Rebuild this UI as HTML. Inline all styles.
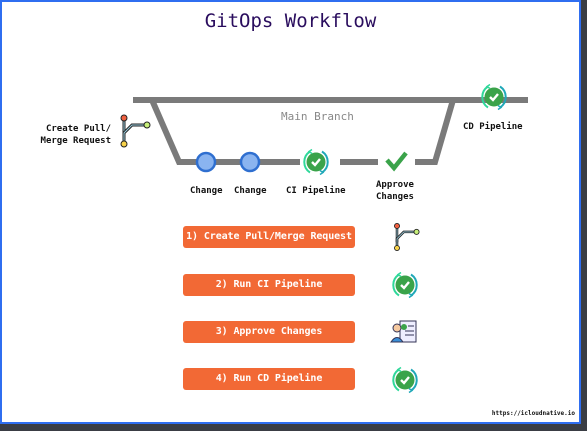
<!DOCTYPE html>
<html><head><style>
body{margin:0;width:587px;height:431px;background:#3a3d44;position:relative;overflow:hidden;font-family:"DejaVu Sans Mono","Liberation Mono",monospace}
#w{position:absolute;left:0;top:0;width:577px;height:420px;background:#fff;border:2px solid #2f6ef0}
.t{position:absolute;font-size:9px;font-weight:bold;color:#111;white-space:nowrap}
.b{position:absolute;left:183px;width:172px;height:22px;background:#f26935;border-radius:3px;color:#fff;font-size:10px;text-align:center;line-height:22px;white-space:nowrap;font-weight:bold;letter-spacing:-0.1px}
</style></head><body>
<div id="w"></div>
<div style="position:absolute;left:0;top:10px;width:581px;text-align:center;font-size:19px;color:#2a0d5e">GitOps Workflow</div>
<svg width="587" height="431" style="position:absolute;left:0;top:0">
<defs>
<g id="ci">
<circle r="9.5" fill="#3aa34a"/><path d="M-4,0 L-1,3 L4,-3" stroke="#fff" stroke-width="2.4" fill="none"/>
<path d="M-6,-10.5 A12.5,12.5 0 0 0 -6,10.5" stroke="#2fd89a" stroke-width="2" fill="none"/>
<path d="M-4,-12.5 l-3,2 l3,2" stroke="#2fd89a" stroke-width="1.5" fill="none"/>
<path d="M6,10.5 A12.5,12.5 0 0 0 6,-10.5" stroke="#1fa8b8" stroke-width="2" fill="none"/>
<path d="M4,12.5 l3,-2 l-3,-2" stroke="#1fa8b8" stroke-width="1.5" fill="none"/>
</g>
<g id="br">
<line x1="0" y1="-13" x2="0" y2="13" stroke="#222" stroke-width="3"/><line x1="0" y1="-13" x2="0" y2="13" stroke="#9cd" stroke-width="1"/>
<path d="M0,6 L0,2 L8,-6 L23,-6" stroke="#222" stroke-width="3" fill="none"/><path d="M0,6 L0,2 L8,-6 L23,-6" stroke="#9cd" stroke-width="1" fill="none"/>
<circle cy="-13" r="3" fill="#f06040" stroke="#222"/><circle cy="13" r="3" fill="#f7d24a" stroke="#222"/><circle cx="23" cy="-6" r="3" fill="#c8f07a" stroke="#222"/>
</g>
</defs>
<g stroke="#7a7a7a" stroke-width="6" fill="none">
<line x1="133" y1="100" x2="528" y2="100"/>
<path d="M152,100 L179,162 L300,162"/>
<line x1="340" y1="162" x2="378" y2="162"/>
<path d="M415,162 L435,162 L453,100"/>
</g>
<circle cx="206" cy="162" r="9" fill="#8ab4f0" stroke="#2f6fd0" stroke-width="2.5"/>
<circle cx="250" cy="162" r="9" fill="#8ab4f0" stroke="#2f6fd0" stroke-width="2.5"/>
<use href="#ci" x="316" y="162"/>
<use href="#ci" x="494" y="97"/>
<path d="M387,160 L394,168 L406,153" stroke="#3aa34a" stroke-width="4.5" fill="none"/>
<use href="#br" x="124" y="131"/>
<use href="#br" transform="translate(397,237) scale(0.85)"/>
<use href="#ci" x="405" y="285"/>
<use href="#ci" x="405" y="380"/>
<g transform="translate(405,332)">
<rect x="-5" y="-11" width="16" height="21" fill="#eef" stroke="#335" stroke-width="1"/>
<line x1="3" y1="-6" x2="9" y2="-6" stroke="#335"/><line x1="0" y1="-1" x2="9" y2="-1" stroke="#335"/><line x1="0" y1="3" x2="9" y2="3" stroke="#335"/>
<circle cx="-8" cy="-4" r="4" fill="#f5c9a0" stroke="#335"/><path d="M-14,10 Q-8,1 -2,10 Z" fill="#3b8fd8" stroke="#335"/>
<circle cx="-1" cy="-5" r="3" fill="#3aa34a"/>
</g>
</svg>
<div class="t" style="left:281px;top:110px;color:#888;font-size:11px;font-weight:normal">Main Branch</div>
<div class="t" style="right:476px;top:123px;text-align:right;line-height:12px">Create Pull/<br>Merge Request</div>
<div class="t" style="left:190px;top:186px">Change</div>
<div class="t" style="left:234px;top:186px">Change</div>
<div class="t" style="left:286px;top:186px">CI Pipeline</div>
<div class="t" style="left:376px;top:179px;text-align:center;line-height:12px">Approve<br>Changes</div>
<div class="t" style="left:463px;top:122px">CD Pipeline</div>
<div class="b" style="top:226px">1) Create Pull/Merge Request</div>
<div class="b" style="top:274px">2) Run CI Pipeline</div>
<div class="b" style="top:321px">3) Approve Changes</div>
<div class="b" style="top:368px">4) Run CD Pipeline</div>
<div class="t" style="right:12px;top:410px;font-size:6px">https://icloudnative.io</div>
</body></html>
